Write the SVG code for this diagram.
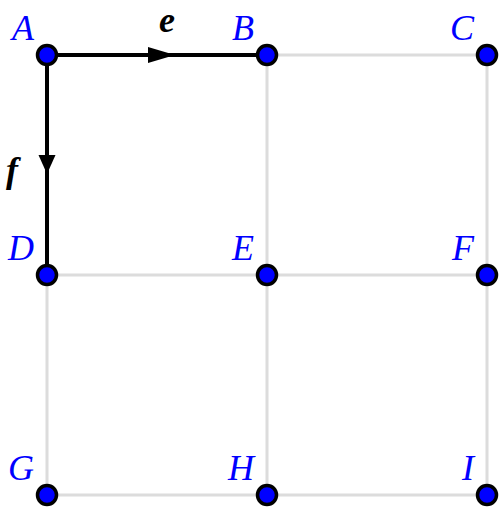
<svg xmlns="http://www.w3.org/2000/svg" width="499" height="508" viewBox="0 0 499 508">
<style>
.grid{stroke:#dcdcdc;stroke-width:3;fill:none}
.edge{stroke:#000;stroke-width:4;fill:none}
.arrow{fill:#000;stroke:none}
.dot{fill:#0000ff;stroke:#000;stroke-width:3.5}
.lbl{font-family:"Liberation Serif","DejaVu Serif",serif;font-style:italic;font-size:36px;fill:#0000ff;text-anchor:end}
.elbl{font-family:"Liberation Serif","DejaVu Serif",serif;font-style:italic;font-weight:bold;font-size:36px;fill:#000}
</style>
<rect width="499" height="508" fill="#fff"/>
<g id="connectors">
<path class="grid" d="M267 55H487M47 275H487M47 495H487M47 275V495M267 55V495M487 55V495"/>
<g id="edge-e">
<path class="edge" d="M47 55H267"/>
<path class="arrow" d="M148 47L175 55L148 63Z"/>
<text class="elbl" x="159" y="32">e</text>
</g>
<g id="edge-f">
<path class="edge" d="M47 55V275"/>
<path class="arrow" d="M38.5 155L47 174L55.5 155Z"/>
<text class="elbl" x="6" y="182">f</text>
</g>
</g>
<g id="A"><circle class="dot" cx="47" cy="55" r="9.5"/><text class="lbl" x="34" y="40">A</text></g>
<g id="B"><circle class="dot" cx="267" cy="55" r="9.5"/><text class="lbl" x="254" y="40">B</text></g>
<g id="C"><circle class="dot" cx="487" cy="55" r="9.5"/><text class="lbl" x="474" y="40">C</text></g>
<g id="D"><circle class="dot" cx="47" cy="275" r="9.5"/><text class="lbl" x="34" y="260">D</text></g>
<g id="E"><circle class="dot" cx="267" cy="275" r="9.5"/><text class="lbl" x="254" y="260">E</text></g>
<g id="F"><circle class="dot" cx="487" cy="275" r="9.5"/><text class="lbl" x="474" y="260">F</text></g>
<g id="G"><circle class="dot" cx="47" cy="495" r="9.5"/><text class="lbl" x="34" y="480">G</text></g>
<g id="H"><circle class="dot" cx="267" cy="495" r="9.5"/><text class="lbl" x="254" y="480">H</text></g>
<g id="I"><circle class="dot" cx="487" cy="495" r="9.5"/><text class="lbl" x="474" y="480">I</text></g>
</svg>
